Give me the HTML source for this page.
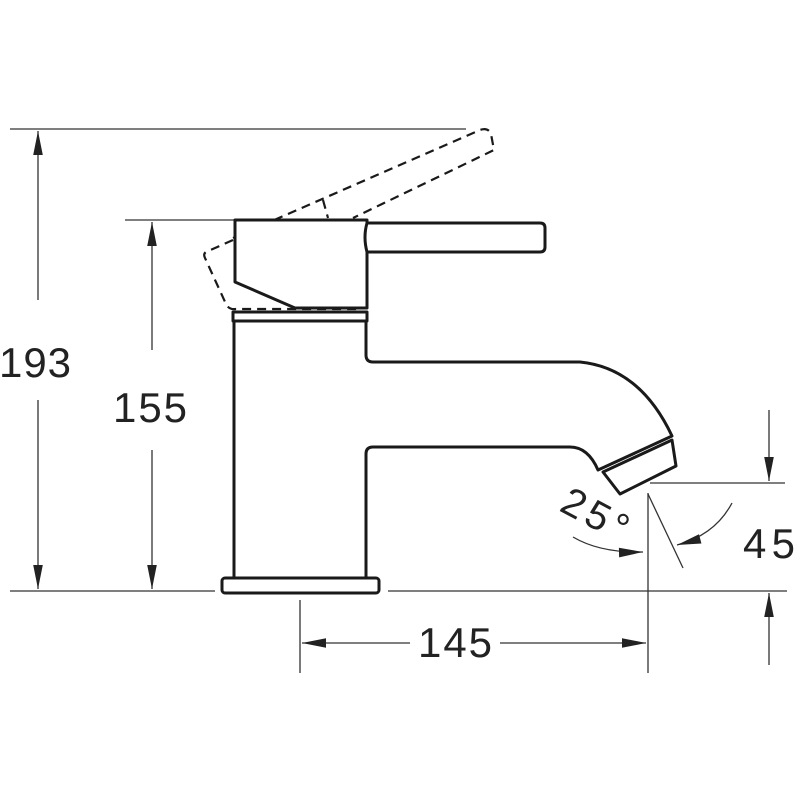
<!DOCTYPE html>
<html><head><style>html,body{margin:0;background:#fff;}svg{display:block}</style></head><body>
<svg width="800" height="800" viewBox="0 0 800 800" xmlns="http://www.w3.org/2000/svg">
<defs>
<marker id="b" viewBox="0 0 20 10" refX="20" refY="5" markerWidth="26" markerHeight="12" markerUnits="userSpaceOnUse" orient="auto"><path d="M0,1L20,5L0,9z" fill="#222"/></marker></defs>
<g stroke="#333" stroke-width="1.3" fill="none">
<line x1="10" y1="129" x2="466" y2="129"/>
<line x1="125" y1="220" x2="235" y2="220"/>
<line x1="10" y1="591" x2="215" y2="591"/>
<line x1="388" y1="591" x2="787" y2="591"/>
<line x1="650" y1="483" x2="785" y2="483"/>
<line x1="300" y1="600" x2="300" y2="673"/>
<line x1="648" y1="493" x2="648" y2="673"/>
<line x1="648" y1="494" x2="683" y2="568"/>
<line x1="38" y1="300" x2="38" y2="131" marker-end="url(#b)"/>
<line x1="38" y1="400" x2="38" y2="589" marker-end="url(#b)"/>
<line x1="152" y1="350" x2="152" y2="222" marker-end="url(#b)"/>
<line x1="152" y1="450" x2="152" y2="589" marker-end="url(#b)"/>
<line x1="410" y1="643" x2="302" y2="643" marker-end="url(#b)"/>
<line x1="500" y1="643" x2="646" y2="643" marker-end="url(#b)"/>
<line x1="769" y1="410" x2="769" y2="481" marker-end="url(#b)"/>
<line x1="769" y1="665" x2="769" y2="593" marker-end="url(#b)"/>
<path d="M732,503 Q715,535 677,545" marker-end="url(#b)"/>
<path d="M573,537 Q600,553 643,552" marker-end="url(#b)"/>
</g>
<g stroke="#1a1a1a" stroke-width="2.2" fill="none" stroke-dasharray="9,6">
<path d="M233,238 L480,130 Q488,127 491,134 L494,150 L353,218"/>
<path d="M233,240 L206,252 Q203,254 205,258 L226,304 Q229,310 236,309 L360,309"/>
<path d="M323,200 L328,218"/>
</g>
<g stroke="#1a1a1a" stroke-width="3" fill="none" stroke-linejoin="round">
<path d="M235,220 L367,220 L367,308 L295,308 L235,282 Z" fill="#fff"/>
<path d="M367,223 L540,223 Q545,223 545,228 L545,247 Q545,252 540,252 L367,252 Q363,237 367,223Z" fill="#fff"/>
<rect x="233" y="312" width="134" height="9" fill="#fff"/>
<path d="M234,321 L234,578 M366,321 L366,355 Q366,362 373,362 L580,362 Q640,368 672,436 L598,470 Q588,447 570,447 L373,447 Q366,447 366,454 L366,578"/>
<path d="M603,472 L672,440 L676,466 L620,494 Z" fill="#fff"/>
<rect x="222" y="578" width="157" height="15" rx="3" fill="#fff"/>
</g>
<g font-family="Liberation Sans, sans-serif" font-size="42" fill="#222">
<text x="35" y="377" text-anchor="middle" textLength="72">193</text>
<text x="150" y="422" text-anchor="middle" textLength="74">155</text>
<text x="455" y="657" text-anchor="middle" textLength="74">145</text>
<text x="769" y="558" text-anchor="middle" textLength="52">45</text>
<text x="0" y="0" transform="translate(558,510) rotate(28)" font-size="40" textLength="70">25°</text>
</g>
</svg>
</body></html>
